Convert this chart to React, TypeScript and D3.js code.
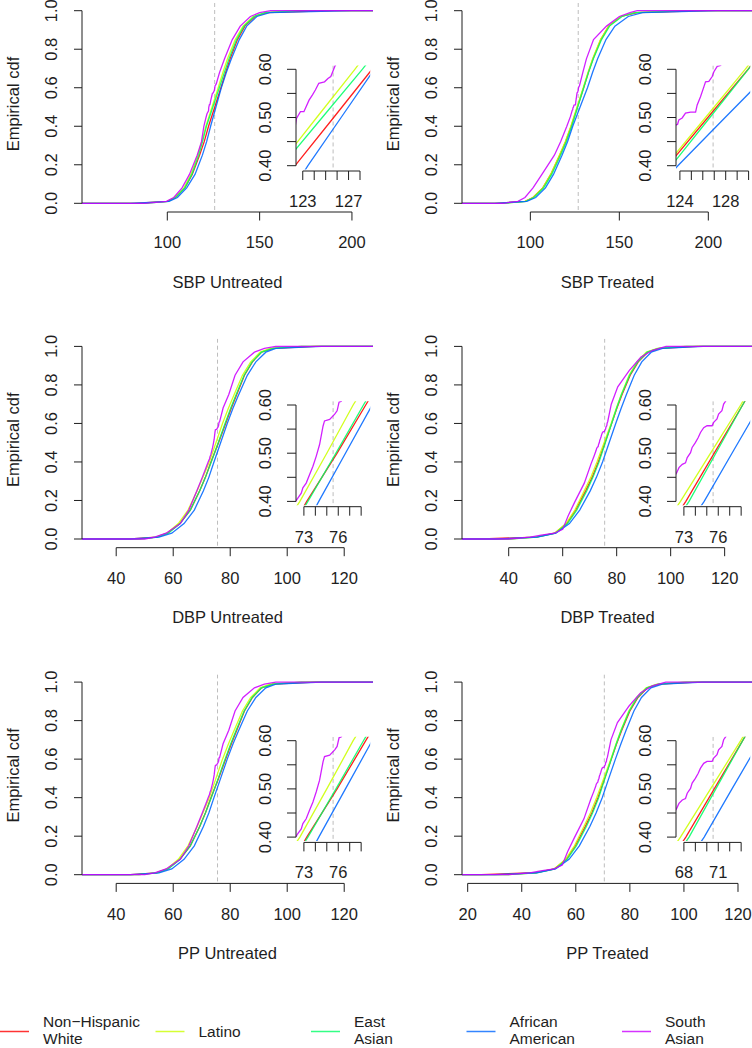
import React from 'react';
import * as d3 from 'd3';

// ---------- shared ----------
const LEGEND_LABELS = [['Non\u2212Hispanic', 'White'], ['Latino'], ['East', 'Asian'], ['African', 'American'], ['South', 'Asian']];
const COLORS = ['#FF0000', '#CCFF00', '#00FF66', '#0066FF', '#CC00FF'];
const LEVELS = [0, 0.01, 0.03, 0.08, 0.15, 0.25, 0.32, 0.4, 0.5, 0.6, 0.68, 0.75, 0.85, 0.92, 0.97, 0.99, 1];
const Y_TICKS = [0, 0.2, 0.4, 0.6, 0.8, 1.0];
const INSET_Y_TICKS = [0.4, 0.45, 0.5, 0.55, 0.6];
const INSET_Y_LABELS = [0.4, 0.5, 0.6];

// ---------- SBP Untreated ----------
const SBP_U_NHW = [82, 100, 104.5, 109.5, 113.5, 117.5, 120, 122.33, 125.7, 129.05, 131.6, 134, 138, 142, 147.5, 154, 190];
const SBP_U_LAT = [85, 100, 104, 109, 112.8, 116.5, 118.7, 120.9, 124.22, 127.55, 130.1, 132.6, 136.8, 141, 146.5, 153, 170];
const SBP_U_EAS = [88, 100.5, 104.5, 109.5, 113.3, 117, 119.1, 121.19, 124.7, 128.2, 130.9, 133.4, 137.5, 141.5, 147, 153, 172];
const SBP_U_AFR = [80, 101, 105.5, 110.5, 115, 119, 121.3, 123.45, 126.35, 129.25, 132, 134.7, 139, 143, 148.5, 155.5, 200];
const SBP_U_SAS = [[88, 0], [99.5, 0.01], [103.5, 0.03], [108, 0.08], [112, 0.15], [116.2, 0.25], [118.5, 0.32], [119.8, 0.4], [120.8, 0.44], [121.5, 0.465], [122.33, 0.48], [122.45, 0.498], [122.8, 0.512], [123.1, 0.512], [123.55, 0.536], [123.85, 0.547], [124.1, 0.557], [124.4, 0.571], [124.9, 0.574], [125.2, 0.581], [125.45, 0.585], [125.65, 0.597], [125.85, 0.609], [126.5, 0.62], [128.3, 0.68], [131, 0.75], [135.2, 0.85], [139.5, 0.92], [145, 0.97], [150, 0.99], [156, 1]];

// ---------- SBP Treated ----------
const SBP_T_NHW = [80, 97, 101.5, 107, 111.5, 116.5, 119.8, 122.93, 126.44, 129.95, 132.6, 135.2, 139.6, 144, 151, 160, 200];
const SBP_T_LAT = [85, 97, 101.5, 107, 111.4, 116.3, 119.6, 122.77, 126.24, 129.7, 132.4, 135, 139.4, 144, 151, 158, 185];
const SBP_T_EAS = [85, 97.5, 102, 107.5, 112, 117, 120.2, 123.26, 126.62, 129.97, 132.7, 135.4, 140, 144.5, 151.5, 159, 190];
const SBP_T_AFR = [80, 98, 103, 108.5, 113, 117.8, 120.9, 123.82, 127.95, 132.1, 135, 137.8, 142.5, 147.5, 155, 163, 205];
const SBP_T_SAS = [[85, 0], [93, 0.01], [97, 0.03], [101.5, 0.08], [106.5, 0.15], [113.5, 0.25], [117, 0.32], [120.5, 0.4], [122.5, 0.45], [123.53, 0.483], [123.8, 0.486], [123.91, 0.495], [124.2, 0.499], [124.49, 0.509], [124.93, 0.511], [125.37, 0.511], [125.51, 0.526], [125.8, 0.543], [126.1, 0.564], [126.24, 0.574], [126.53, 0.575], [126.82, 0.585], [126.97, 0.595], [127.26, 0.606], [127.55, 0.608], [129.5, 0.68], [131.5, 0.75], [135.5, 0.85], [142.8, 0.92], [150, 0.97], [156, 0.99], [160, 1]];

// ---------- DBP Untreated (PP Untreated shows the same curves) ----------
const DBP_U_NHW = [45, 54, 58, 62.3, 66, 69.3, 71.3, 73.25, 75.9, 78.4, 80.4, 82.3, 85, 87.8, 91, 95, 110];
const DBP_U_LAT = [48, 54, 57.8, 61.8, 65.2, 68.4, 70.4, 72.65, 75.0, 77.3, 79.4, 81.4, 84.3, 87.2, 90.5, 94, 105];
const DBP_U_EAS = [48, 54.5, 58.3, 62.4, 66, 69.3, 71.3, 73.35, 75.8, 78.2, 80.2, 82.1, 84.9, 87.7, 91, 95, 105];
const DBP_U_AFR = [45, 55, 59.5, 63.8, 67.4, 70.6, 72.5, 74.3, 76.63, 78.96, 81, 83, 86, 89, 92.5, 96, 112];
const DBP_U_SAS = [[50, 0], [53.5, 0.01], [57.5, 0.03], [62.5, 0.08], [65.5, 0.15], [68.3, 0.25], [70.2, 0.32], [71.5, 0.37], [72.27, 0.4], [72.47, 0.407], [72.77, 0.417], [72.91, 0.428], [73.2, 0.438], [73.5, 0.456], [73.79, 0.473], [74.08, 0.494], [74.37, 0.518], [74.67, 0.556], [74.8, 0.567], [75.25, 0.57], [75.69, 0.581], [75.9, 0.588], [76.07, 0.606], [76.27, 0.608], [77.5, 0.68], [79.5, 0.75], [81.7, 0.85], [84.5, 0.92], [88.5, 0.97], [92, 0.99], [96, 1]];

// ---------- DBP Treated ----------
const DBP_T_NHW = [30, 50, 57, 61.5, 64.8, 68.5, 70.9, 73.17, 75.65, 78.13, 80.1, 82, 85, 88, 91.5, 96, 110];
const DBP_T_LAT = [40, 50, 57, 61.2, 64.5, 68, 70.4, 72.7, 75.33, 77.96, 79.9, 81.7, 84.6, 87.5, 91, 95, 105];
const DBP_T_EAS = [40, 50.5, 57.3, 61.8, 65.2, 68.9, 71.2, 73.45, 75.79, 78.13, 80, 81.8, 84.8, 87.8, 91.3, 95.5, 106];
const DBP_T_AFR = [35, 50.5, 57.5, 62.5, 66.3, 70.2, 72.5, 74.77, 77.2, 79.65, 81.7, 83.6, 86.5, 89.3, 92.8, 97, 112];
const DBP_T_SAS = [[40, 0], [48, 0.01], [52, 0.02], [57, 0.03], [60, 0.05], [62, 0.12], [64.4, 0.19], [68, 0.29], [70.5, 0.39], [71.6, 0.43], [72.36, 0.459], [72.57, 0.47], [72.86, 0.477], [73.14, 0.48], [73.29, 0.491], [73.58, 0.501], [73.72, 0.512], [74.0, 0.522], [74.24, 0.532], [74.45, 0.543], [74.73, 0.553], [75.02, 0.557], [75.46, 0.557], [75.6, 0.564], [75.89, 0.571], [76.03, 0.581], [76.32, 0.588], [76.47, 0.602], [76.67, 0.609], [78, 0.7], [80.4, 0.79], [84.7, 0.876], [89, 0.945], [93.3, 0.98], [98.3, 1]];

// ---------- PP Treated ----------
const PP_T_NHW = [25, 45, 52, 56.5, 59.8, 63.5, 65.9, 68.17, 70.65, 73.13, 75.1, 77, 80, 83, 86.5, 91, 105];
const PP_T_LAT = [35, 45, 52, 56.2, 59.5, 63, 65.4, 67.7, 70.33, 72.96, 74.9, 76.7, 79.6, 82.5, 86, 90, 100];
const PP_T_EAS = [35, 45.5, 52.3, 56.8, 60.2, 63.9, 66.2, 68.45, 70.79, 73.13, 75, 76.8, 79.8, 82.8, 86.3, 90.5, 101];
const PP_T_AFR = [30, 45.5, 52.5, 57.5, 61.3, 65.2, 67.5, 69.77, 72.2, 74.65, 76.7, 78.6, 81.5, 84.3, 87.8, 92, 107];
const PP_T_SAS = [[35, 0], [43, 0.01], [47, 0.02], [52, 0.03], [55, 0.05], [57, 0.12], [59.4, 0.19], [63, 0.29], [65.5, 0.39], [66.6, 0.43], [67.36, 0.459], [67.57, 0.47], [67.86, 0.477], [68.14, 0.48], [68.29, 0.491], [68.58, 0.501], [68.72, 0.512], [69.0, 0.522], [69.24, 0.532], [69.45, 0.543], [69.73, 0.553], [70.02, 0.557], [70.46, 0.557], [70.6, 0.564], [70.89, 0.571], [71.03, 0.581], [71.32, 0.588], [71.47, 0.602], [71.67, 0.609], [73, 0.7], [75.4, 0.79], [79.7, 0.876], [84, 0.945], [88.3, 0.98], [93.3, 1]];

// ---------- panel settings ----------
const TITLES = ['SBP Untreated', 'SBP Treated', 'DBP Untreated', 'DBP Treated', 'PP Untreated', 'PP Treated'];
const X_DOMAINS = [[53.8, 211.4], [61.6, 225.1], [28, 130.1], [22.7, 130.5], [28, 130.1], [17.9, 125.55]];
const X_TICKS = [[100, 150, 200], [100, 150, 200], [40, 60, 80, 100, 120], [40, 60, 80, 100, 120], [40, 60, 80, 100, 120], [20, 40, 60, 80, 100, 120]];
const MEDIANS = [125.65, 126.9, 75.55, 75.55, 75.55, 70.55];
const INSET_X_TICKS = [[123, 124, 125, 126, 127, 128], [124, 125, 126, 127, 128, 129, 130], [73, 74, 75, 76, 77, 78], [73, 74, 75, 76, 77, 78], [73, 74, 75, 76, 77, 78], [68, 69, 70, 71, 72, 73]];
const INSET_X_LABELS = [[123, 127], [124, 128], [73, 76], [73, 76], [73, 76], [68, 71]];
const QUANTILES = [
  [SBP_U_NHW, SBP_U_LAT, SBP_U_EAS, SBP_U_AFR],
  [SBP_T_NHW, SBP_T_LAT, SBP_T_EAS, SBP_T_AFR],
  [DBP_U_NHW, DBP_U_LAT, DBP_U_EAS, DBP_U_AFR],
  [DBP_T_NHW, DBP_T_LAT, DBP_T_EAS, DBP_T_AFR],
  [DBP_U_NHW, DBP_U_LAT, DBP_U_EAS, DBP_U_AFR],
  [PP_T_NHW, PP_T_LAT, PP_T_EAS, PP_T_AFR],
];
const SOUTH_ASIAN = [SBP_U_SAS, SBP_T_SAS, DBP_U_SAS, DBP_T_SAS, DBP_U_SAS, PP_T_SAS];

const FONT = '"Liberation Sans", Arial, Helvetica, sans-serif';
const AX = '#1e1e1e';
const FS = 16.5;

function seriesFor(i: number): number[][][] {
  const qs = QUANTILES[i].map((q) => LEVELS.map((f, k) => [q[k], f]));
  return [...qs, SOUTH_ASIAN[i]];
}

function Panel({ i }: { i: number }) {
  const col = i % 2;
  const row = Math.floor(i / 2);
  const ox = col * 380;
  const oy = row * 335.7;
  const left = 82 + ox;
  const right = 373 + ox;
  const x = d3.scaleLinear().domain(X_DOMAINS[i]).range([left, right]);
  const y = d3.scaleLinear().domain([0, 1]).range([203.3 + oy, 10.7 + oy]);
  const top = y(1.04);
  const bottom = y(-0.04);
  const [d0, d1] = X_DOMAINS[i];
  const series = seriesFor(i);
  const mainLine = d3.line<number[]>().x((d) => x(d[0])).y((d) => y(d[1]));

  const med = MEDIANS[i];
  const ix = d3.scaleLinear().domain([med - 3.24, med + 3.24]).range([296 + ox, 370.2 + ox]);
  const iy = d3.scaleLinear().domain([0.4, 0.6]).range([165.7 + oy, 69.3 + oy]);
  const iTop = iy(0.608);
  const iBottom = iy(0.392);
  const insetLine = d3.line<number[]>().x((d) => ix(d[0])).y((d) => iy(d[1]));

  const xt = X_TICKS[i];
  const ixt = INSET_X_TICKS[i];
  const axisY = 212 + oy;
  const iAxisY = 171 + oy;
  const cid = `clip-main-${i}`;
  const icid = `clip-inset-${i}`;

  return (
    <g>
      <defs>
        <clipPath id={cid}>
          <rect x={left} y={top} width={right - left} height={bottom - top} />
        </clipPath>
        <clipPath id={icid}>
          <rect x={ix.range()[0]} y={iTop} width={ix.range()[1] - ix.range()[0]} height={iBottom - iTop} />
        </clipPath>
      </defs>
      {/* main curves */}
      <g clipPath={`url(#${cid})`}>
        <line x1={x(med)} x2={x(med)} y1={top} y2={bottom} stroke="#bdbdbd" strokeWidth={1} strokeDasharray="4,3" />
        {series.map((s, k) => (
          <path key={k} d={mainLine([[d0 - 10, 0], ...s, [d1 + 10, 1]]) || ''} fill="none" stroke={COLORS[k]} strokeOpacity={0.88} strokeWidth={1.3} />
        ))}
      </g>
      {/* main y axis */}
      <line x1={left} x2={left} y1={y(0)} y2={y(1)} stroke={AX} />
      {Y_TICKS.map((t) => (
        <g key={t}>
          <line x1={left - 8} x2={left} y1={y(t)} y2={y(t)} stroke={AX} />
          <text transform={`translate(${56.7 + ox},${y(t)}) rotate(-90)`} textAnchor="middle" fontSize={FS} fill={AX}>{t.toFixed(1)}</text>
        </g>
      ))}
      <text transform={`translate(${18.5 + ox},${104 + oy}) rotate(-90)`} textAnchor="middle" fontSize={FS} fill={AX}>Empirical cdf</text>
      {/* main x axis */}
      <line x1={x(xt[0])} x2={x(xt[xt.length - 1])} y1={axisY} y2={axisY} stroke={AX} />
      {xt.map((t) => (
        <g key={t}>
          <line x1={x(t)} x2={x(t)} y1={axisY} y2={axisY + 8.5} stroke={AX} />
          <text x={x(t)} y={248.3 + oy} textAnchor="middle" fontSize={FS} fill={AX}>{t}</text>
        </g>
      ))}
      <text x={(left + right) / 2} y={287.5 + oy} textAnchor="middle" fontSize={FS} fill={AX}>{TITLES[i]}</text>

      {/* inset */}
      <g clipPath={`url(#${icid})`}>
        <line x1={ix(med)} x2={ix(med)} y1={iTop} y2={iBottom} stroke="#bdbdbd" strokeWidth={1} strokeDasharray="4,3" />
        {series.map((s, k) => (
          <path key={k} d={insetLine(s) || ''} fill="none" stroke={COLORS[k]} strokeOpacity={0.88} strokeWidth={1.3} />
        ))}
      </g>
      <line x1={296 + ox} x2={296 + ox} y1={iy(0.4)} y2={iy(0.6)} stroke={AX} />
      {INSET_Y_TICKS.map((t) => (
        <line key={t} x1={296 + ox - 9} x2={296 + ox} y1={iy(t)} y2={iy(t)} stroke={AX} />
      ))}
      {INSET_Y_LABELS.map((t) => (
        <text key={t} transform={`translate(${271 + ox},${iy(t)}) rotate(-90)`} textAnchor="middle" fontSize={FS} fill={AX}>{t.toFixed(2)}</text>
      ))}
      <line x1={ix(ixt[0])} x2={ix(ixt[ixt.length - 1])} y1={iAxisY} y2={iAxisY} stroke={AX} />
      {ixt.map((t) => (
        <line key={t} x1={ix(t)} x2={ix(t)} y1={iAxisY} y2={iAxisY + 9} stroke={AX} />
      ))}
      {INSET_X_LABELS[i].map((t) => (
        <text key={t} x={ix(t)} y={207 + oy} textAnchor="middle" fontSize={FS} fill={AX}>{t}</text>
      ))}
    </g>
  );
}

function Legend() {
  const lx = d3.scaleLinear().domain([0, 4]).range([0, 622]);
  return (
    <g>
      {LEGEND_LABELS.map((lines, k) => {
        const x0 = lx(k);
        return (
          <g key={k}>
            <line x1={x0} x2={x0 + 29} y1={1031.5} y2={1031.5} stroke={COLORS[k]} strokeOpacity={0.8} strokeWidth={1.5} />
            {lines.map((s, j) => {
              const by = lines.length === 1 ? 1037 : 1027 + j * 17.2;
              return (
                <text key={j} x={x0 + 43} y={by} fontSize={15.5} fill={AX}>{s}</text>
              );
            })}
          </g>
        );
      })}
    </g>
  );
}

export default function App() {
  return (
    <svg width={752} height={1048} viewBox="0 0 752 1048" style={{ position: 'absolute', left: 0, top: 0, fontFamily: FONT, background: '#fff' }}>
      <rect x={0} y={0} width={752} height={1048} fill="#fff" />
      {[0, 1, 2, 3, 4, 5].map((i) => (
        <Panel key={i} i={i} />
      ))}
      <Legend />
    </svg>
  );
}
